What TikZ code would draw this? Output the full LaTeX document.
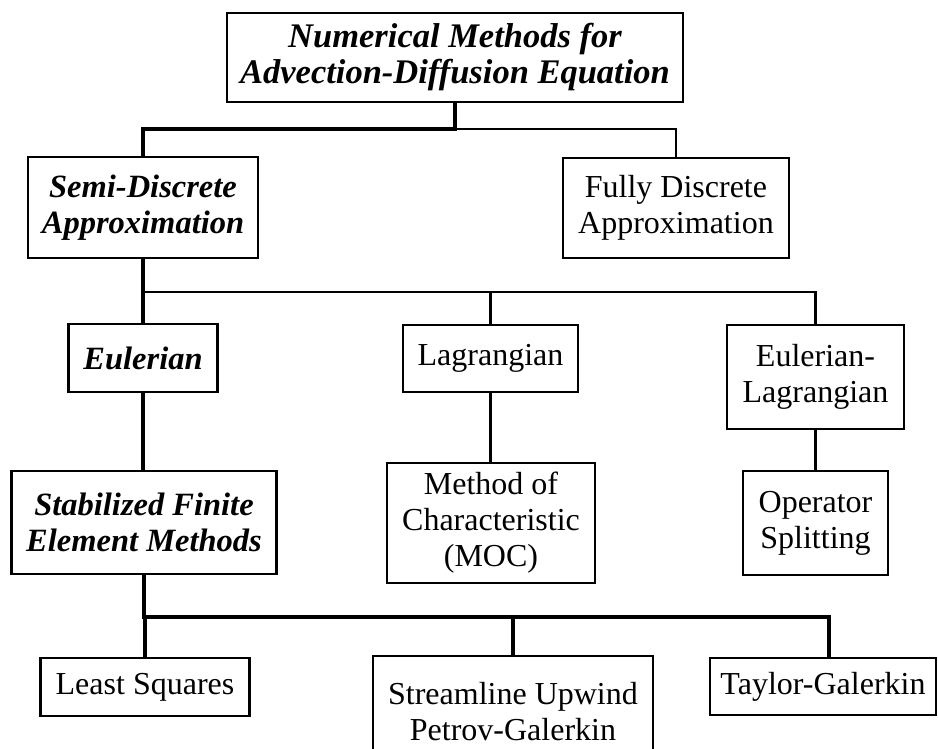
\documentclass[tikz,border=0pt]{standalone}
\usepackage{fontspec}
\setmainfont{Liberation Serif}
\begin{document}
\begin{tikzpicture}[x=1pt,y=-1pt,
  box/.style={draw=black,line width=2.5pt,fill=white,inner sep=2pt,align=center,
    font=\fontsize{32}{36}\selectfont},
  bbox/.style={box,font=\fontsize{32.5}{36}\selectfont\bfseries\itshape},
  tbox/.style={box,font=\fontsize{34.5}{36}\selectfont\bfseries\itshape},
  thk/.style={line width=4.3pt},
  thn/.style={line width=2.5pt}]
\useasboundingbox (0,0) rectangle (938,749);
% nodes
\node[tbox,minimum width=456pt,minimum height=89pt] (root) at (455,57.5) {Numerical Methods for\\Advection-Diffusion Equation};
\node[bbox,minimum width=230pt,minimum height=101pt] (semi) at (143,207.5) {Semi-Discrete\\Approximation};
\node[box,minimum width=226pt,minimum height=100pt] (fully) at (676,208) {Fully Discrete\\Approximation};
\node[bbox,minimum width=149pt,minimum height=68pt] (euler) at (143,358) {Eulerian};
\node[box,minimum width=175pt,minimum height=67pt] (lagr) at (490.5,358.5) {Lagrangian};
\node[box,minimum width=177pt,minimum height=104pt] (el) at (815.5,377) {Eulerian-\\Lagrangian};
\node[bbox,minimum width=265pt,minimum height=103pt] (stab) at (144,522.5) {Stabilized Finite\\Element Methods};
\node[box,minimum width=208pt,minimum height=120pt] (moc) at (491,523) {Method of\\Characteristic\\(MOC)};
\node[box,minimum width=145pt,minimum height=104pt] (os) at (815.5,523) {Operator\\Splitting};
\node[box,minimum width=209pt,minimum height=58pt] (ls) at (145,687) {Least Squares};
\node[box,minimum width=280pt,minimum height=112pt] (supg) at (513,712) {Streamline Upwind\\Petrov-Galerkin};
\node[box,minimum width=226pt,minimum height=57pt] (tg) at (823,686.5) {Taylor-Galerkin};
% junctions
\coordinate (j1) at (455,129);
\coordinate (j2) at (143,292);
\coordinate (j3) at (144,617);
\coordinate (tgtop) at (829,658);
% connectors
\draw[thn] (j1) -| (fully.north);
\draw[thk] (root.south) -- (j1) -| (semi.north);
\draw[thn] (j2) -| (lagr.north);
\draw[thn] (j2) -| (el.north);
\draw[thk] (semi.south) -- (euler.north);
\draw[thk] (euler.south) -- (euler.south |- stab.north);
\draw[thn] (lagr.south) -- (lagr.south |- moc.north);
\draw[thn] (el.south) -- (el.south |- os.north);
\draw[thk] (stab.south) -- (j3) -| (ls.north);
\draw[thk] (j3) -| (supg.north);
\draw[thk] (j3) -| (tgtop);
\end{tikzpicture}
\end{document}
